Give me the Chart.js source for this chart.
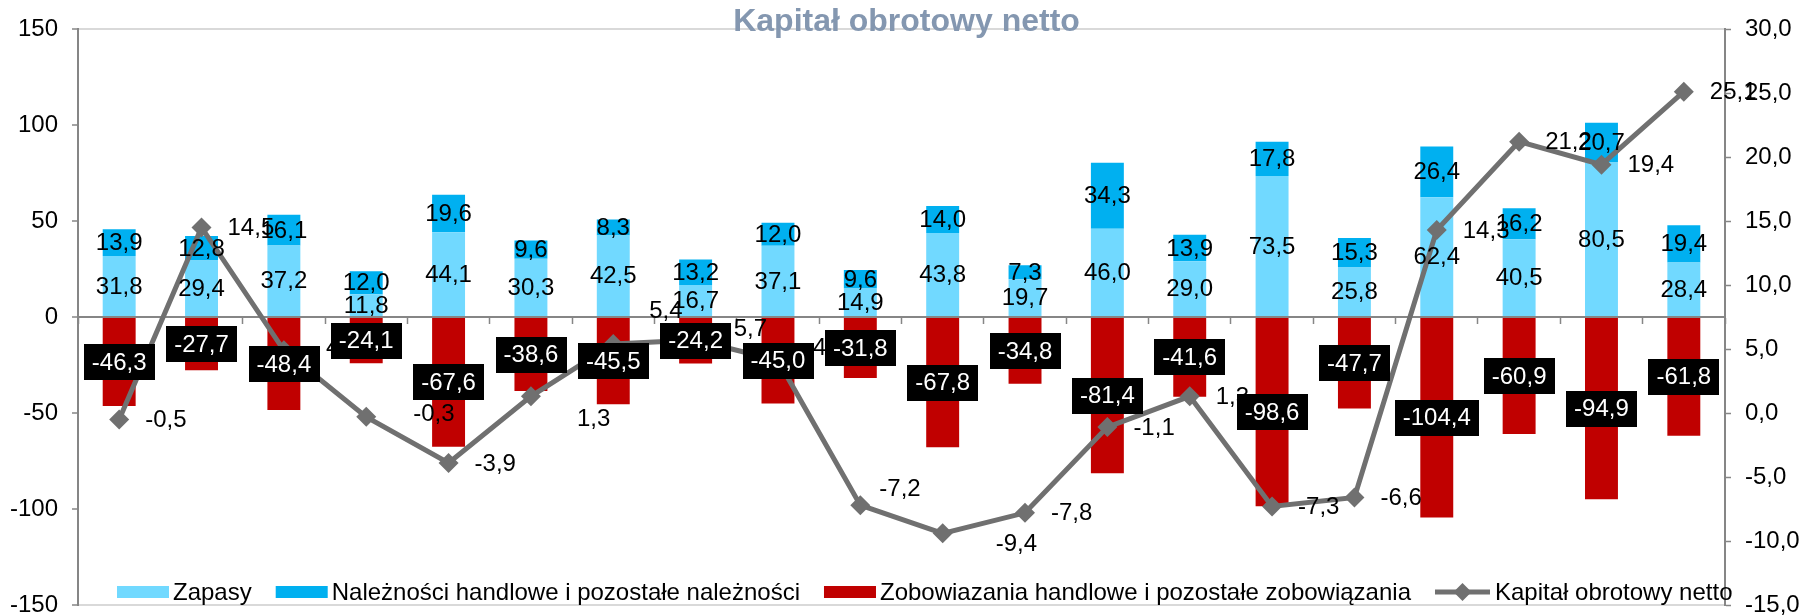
<!DOCTYPE html>
<html>
<head>
<meta charset="utf-8">
<script src="https://cdn.jsdelivr.net/npm/chart.js@4.4.1/dist/chart.umd.min.js"></script>
<style>
  html, body { margin: 0; padding: 0; background: #fff; }
</style>
</head>
<body>
<canvas id="chart" width="1813" height="616"></canvas>
<script>
// categories have no visible labels in the original
const categories = ['1', '2', '3', '4', '5', '6', '7', '8', '9', '10',
  '11', '12', '13', '14', '15', '16', '17', '18', '19', '20'];

const zapasy = [31.8, 29.4, 37.2, 11.8, 44.1, 30.3, 42.5, 16.7, 37.1, 14.9,
  43.8, 19.7, 46.0, 29.0, 73.5, 25.8, 62.4, 40.5, 80.5, 28.4];
const naleznosci = [13.9, 12.8, 16.1, 12.0, 19.6, 9.6, 8.3, 13.2, 12.0, 9.6,
  14.0, 7.3, 34.3, 13.9, 17.8, 15.3, 26.4, 16.2, 20.7, 19.4];
const zobowiazania = [-46.3, -27.7, -48.4, -24.1, -67.6, -38.6, -45.5, -24.2, -45.0, -31.8,
  -67.8, -34.8, -81.4, -41.6, -98.6, -47.7, -104.4, -60.9, -94.9, -61.8];
const kapital = [-0.5, 14.5, 4.9, -0.3, -3.9, 1.3, 5.4, 5.7, 4.1, -7.2,
  -9.4, -7.8, -1.1, 1.3, -7.3, -6.6, 14.3, 21.2, 19.4, 25.1];

const leftTicks = { min: -150, max: 150, step: 50 };
const rightTicks = { min: -15, max: 30, step: 5 };

const seriesNames = [
  'Zapasy',
  'Należności handlowe i pozostałe należności',
  'Zobowiazania handlowe i pozostałe zobowiązania',
  'Kapitał obrotowy netto'
];
const title = 'Kapitał obrotowy netto';

const FONT = '"Liberation Sans", Arial, sans-serif';
const AXIS = '#868686';
const LINE = '#707070';
const fmt = v => v.toFixed(1).replace('.', ',');

// a few line labels were dragged by hand in the original (dx, dy in px)
const lineLabelNudge = {
  2: [16, -3], 3: [21, -3], 5: [20, 22], 6: [10, -34], 7: [12, -12],
  8: [9, -13], 9: [-7, -17], 10: [27, 10]
};

// value labels, drawn on top of everything like in Excel
const valueLabels = {
  id: 'valueLabels',
  afterDatasetsDraw(chart) {
    const ctx = chart.ctx;
    ctx.save();
    ctx.font = '24px ' + FONT;
    ctx.textBaseline = 'middle';

    // blue bars: centred, black text
    ctx.textAlign = 'center';
    ctx.fillStyle = '#000';
    [0, 1].forEach(di => {
      const meta = chart.getDatasetMeta(di);
      meta.data.forEach((el, i) => {
        const p = el.getProps(['x', 'y', 'base'], true);
        ctx.fillText(fmt(chart.data.datasets[di].data[i]), p.x, (p.y + p.base) / 2 + 1);
      });
    });

    // line: to the right of the point
    ctx.textAlign = 'left';
    const lm = chart.getDatasetMeta(3);
    lm.data.forEach((pt, i) => {
      const n = lineLabelNudge[i] || [0, 0];
      ctx.fillText(fmt(kapital[i]), pt.x + 26 + n[0], pt.y + 1 + n[1]);
    });

    // red bars: white text on black box
    ctx.textAlign = 'center';
    const rm = chart.getDatasetMeta(2);
    rm.data.forEach((el, i) => {
      const p = el.getProps(['x', 'y', 'base'], true);
      const txt = fmt(zobowiazania[i]);
      const w = ctx.measureText(txt).width + 16;
      const cy = (p.y + p.base) / 2;
      ctx.fillStyle = '#000';
      ctx.fillRect(Math.round(p.x - w / 2), Math.round(cy - 18), Math.round(w), 36);
      ctx.fillStyle = '#fff';
      ctx.fillText(txt, p.x, cy + 1);
    });
    ctx.restore();
  }
};

// title and legend sit inside the plot area in the original
const overlay = {
  id: 'overlay',
  afterDraw(chart) {
    const ctx = chart.ctx;
    ctx.save();
    ctx.font = 'bold 32px ' + FONT;
    ctx.fillStyle = '#8497B0';
    ctx.textAlign = 'center';
    ctx.textBaseline = 'alphabetic';
    ctx.fillText(title, chart.width / 2, 31);

    ctx.font = '24px ' + FONT;
    ctx.textAlign = 'left';
    ctx.textBaseline = 'middle';
    const y = 592;
    let x = 117;
    chart.data.datasets.forEach((ds) => {
      if (ds.type === 'line') {
        ctx.strokeStyle = ds.borderColor;
        ctx.lineWidth = 5;
        ctx.beginPath();
        ctx.moveTo(x, y);
        ctx.lineTo(x + 55, y);
        ctx.stroke();
        ctx.fillStyle = ds.borderColor;
        ctx.beginPath();
        ctx.moveTo(x + 27.5, y - 9);
        ctx.lineTo(x + 36.5, y);
        ctx.lineTo(x + 27.5, y + 9);
        ctx.lineTo(x + 18.5, y);
        ctx.closePath();
        ctx.fill();
        x += 60;
      } else {
        ctx.fillStyle = ds.backgroundColor;
        ctx.fillRect(x, y - 6, 52, 12);
        x += 56;
      }
      ctx.fillStyle = '#000';
      ctx.fillText(ds.label, x, y + 1);
      x += ctx.measureText(ds.label).width + 24;
    });
    ctx.restore();
  }
};

new Chart(document.getElementById('chart'), {
  type: 'bar',
  data: {
    labels: categories,
    datasets: [{
      label: seriesNames[0],
      data: zapasy,
      backgroundColor: '#71D9FF',
      yAxisID: 'y',
      order: 1
    }, {
      label: seriesNames[1],
      data: naleznosci,
      backgroundColor: '#00B0F0',
      yAxisID: 'y',
      order: 1
    }, {
      label: seriesNames[2],
      data: zobowiazania,
      backgroundColor: '#C00000',
      yAxisID: 'y',
      order: 1
    }, {
      type: 'line',
      label: seriesNames[3],
      data: kapital,
      borderColor: LINE,
      backgroundColor: LINE,
      borderWidth: 5,
      pointStyle: 'rectRot',
      pointRadius: 10,
      pointBorderWidth: 0,
      pointBackgroundColor: LINE,
      tension: 0,
      yAxisID: 'y1',
      order: 0
    }]
  },
  options: {
    responsive: false,
    animation: false,
    events: [],
    layout: { padding: { top: 29, bottom: 11, left: 0, right: 0 } },
    datasets: {
      bar: { categoryPercentage: 1, barPercentage: 0.4 }
    },
    plugins: {
      legend: { display: false },
      tooltip: { enabled: false },
      title: { display: false }
    },
    scales: {
      x: {
        stacked: true,
        position: { y: 0 },
        ticks: { display: false },
        grid: {
          drawOnChartArea: false,
          drawTicks: true,
          tickLength: 6,
          tickColor: AXIS,
          tickWidth: 1.5
        },
        border: { display: true, color: AXIS, width: 2 }
      },
      y: {
        stacked: true,
        position: 'left',
        min: leftTicks.min,
        max: leftTicks.max,
        ticks: {
          stepSize: leftTicks.step,
          color: '#000',
          font: { family: FONT, size: 24 },
          padding: 14
        },
        grid: {
          color: c => (c.tick && Math.abs(c.tick.value) === 150) ? '#D9D9D9' : 'rgba(0,0,0,0)',
          lineWidth: 2,
          tickLength: 6,
          tickColor: AXIS,
          tickWidth: 1.5
        },
        border: { display: true, color: AXIS, width: 2 },
        afterFit(s) { s.width = 78; s.paddingTop = 0; s.paddingBottom = 0; }
      },
      y1: {
        position: 'right',
        min: rightTicks.min,
        max: rightTicks.max,
        ticks: {
          stepSize: rightTicks.step,
          color: '#000',
          font: { family: FONT, size: 24 },
          padding: 14,
          callback: v => fmt(v)
        },
        grid: {
          drawOnChartArea: false,
          tickLength: 6,
          tickColor: AXIS,
          tickWidth: 1.5
        },
        border: { display: true, color: AXIS, width: 2 },
        afterFit(s) { s.width = 88; s.paddingTop = 0; s.paddingBottom = 0; }
      }
    }
  },
  plugins: [valueLabels, overlay]
});
</script>
</body>
</html>
